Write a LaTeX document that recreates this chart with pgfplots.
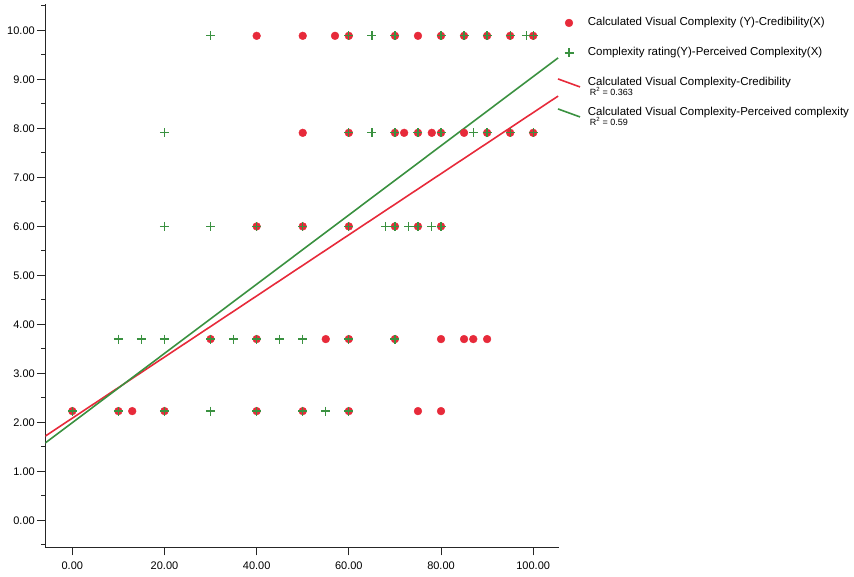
\documentclass[border=0pt]{standalone}
\usepackage{fontspec}
\setmainfont{Liberation Sans}
\usepackage{pgfplots}
\pgfplotsset{compat=1.18}
\definecolor{spssred}{RGB}{231,42,58}
\definecolor{spssgreen}{RGB}{58,145,64}
\pgfplotsset{
  markimg/.style={legend image code/.code={\path[draw=none,fill=none] (-11pt,0pt) -- (11pt,0pt); \draw[##1] plot coordinates {(0pt,0pt)};}},
  lineimg/.style={legend image code/.code={\draw[##1] (-11pt,4pt) -- (11pt,-4pt);}},
}
\begin{document}
\begin{tikzpicture}
\begin{axis}[
  name=main,
  scale only axis, width=513.7pt, height=543.3pt,
  xmin=-5.86, xmax=105.6, ymin=-0.55, ymax=10.54,
  axis x line*=bottom, axis y line*=left,
  axis line style={-, line width=0.9pt, black!85},
  every tick/.style={line width=0.9pt, black!85},
  xtick={0,20,...,100}, ytick={0,1,...,10},
  minor ytick={-0.5,0.5,...,10.5},
  tick align=outside, major tick length=8pt, minor tick length=4pt,
  /pgf/number format/.cd, fixed, fixed zerofill, precision=2, assume math mode=true,
  /pgfplots/.cd,
  ticklabel style={font=\fontsize{11}{13}\selectfont},
  yticklabel style={xshift=1pt},
  xticklabel style={yshift=-3pt},
  legend cell align=left,
  legend style={at={(1,1)}, anchor=north west, xshift=-2pt, yshift=-13.5pt,
    draw=none, fill=none, inner sep=0pt, row sep=19.5pt, column sep=7pt,
    nodes={inner sep=0pt, text height=8pt, text depth=2.5pt, font=\fontsize{11.5}{13}\selectfont}},
]
% Calculated Visual Complexity (Y) - Credibility (X)
\addplot[only marks, mark=*, mark size=3.9pt, color=spssred, markimg]
coordinates {
 (40,9.89) (50,9.89) (57,9.89) (60,9.89) (70,9.89) (75,9.89) (80,9.89) (85,9.89) (90,9.89) (95,9.89) (100,9.89)
 (50,7.91) (60,7.91) (70,7.91) (72,7.91) (75,7.91) (78,7.91) (80,7.91) (85,7.91) (90,7.91) (95,7.91) (100,7.91)
 (40,6.0) (50,6.0) (60,6.0) (70,6.0) (75,6.0) (80,6.0)
 (30,3.70) (40,3.70) (55,3.70) (60,3.70) (70,3.70) (80,3.70) (85,3.70) (87,3.70) (90,3.70)
 (0,2.23) (10,2.23) (13,2.23) (20,2.23) (40,2.23) (50,2.23) (60,2.23) (75,2.23) (80,2.23)
};
\addlegendentry{Calculated Visual Complexity (Y)-Credibility(X)}
% Complexity rating (Y) - Perceived Complexity (X)
\addplot[only marks, mark=+, mark size=4.5pt, color=spssgreen, mark options={line width=1.3pt}, markimg]
coordinates {
 (30,9.89) (60,9.89) (65,9.89) (70,9.89) (80,9.89) (85,9.89) (90,9.89) (95,9.89) (98.5,9.89) (100,9.89)
 (20,7.91) (60,7.91) (65,7.91) (70,7.91) (75,7.91) (80,7.91) (87,7.91) (90,7.91) (95,7.91) (100,7.91)
 (20,6.0) (30,6.0) (40,6.0) (50,6.0) (60,6.0) (68,6.0) (70,6.0) (73,6.0) (75,6.0) (78,6.0) (80,6.0)
 (10,3.70) (15,3.70) (20,3.70) (30,3.70) (35,3.70) (40,3.70) (45,3.70) (50,3.70) (60,3.70) (70,3.70)
 (0,2.23) (10,2.23) (20,2.23) (30,2.23) (40,2.23) (50,2.23) (55,2.23) (60,2.23)
};
\addlegendentry{Complexity rating(Y)-Perceived Complexity(X)}
% fit lines
\addplot[spssred, line width=1.6pt, lineimg]
coordinates {(-5.86,1.72) (105.4,8.66)};
\addlegendentry{\makebox[0pt][l]{\raisebox{-10pt}[0pt][0pt]{\hspace*{2pt}\fontsize{9}{10}\selectfont R\textsuperscript{2} = 0.363}}Calculated Visual Complexity-Credibility}
\addplot[spssgreen, line width=1.6pt, lineimg]
coordinates {(-5.86,1.58) (105.4,9.44)};
\addlegendentry{\makebox[0pt][l]{\raisebox{-10pt}[0pt][0pt]{\hspace*{2pt}\fontsize{9}{10}\selectfont R\textsuperscript{2} = 0.59}}Calculated Visual Complexity-Perceived complexity}
\end{axis}
\pgfresetboundingbox
\path[use as bounding box] (main.south west) ++(-45.3pt,-29.7pt) rectangle ++(854pt,577pt);
\end{tikzpicture}
\end{document}
